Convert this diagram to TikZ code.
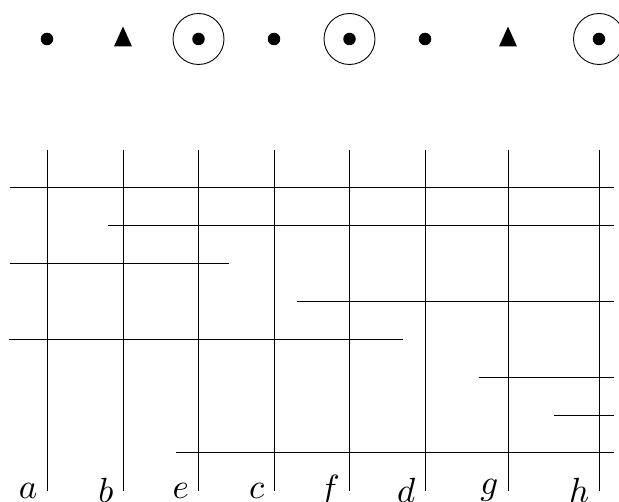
\documentclass[tikz,border=0pt]{standalone}
\begin{document}
\begin{tikzpicture}[x=1pt,y=-1pt,
  ln/.style={line width=1pt,black},
  lbl/.style={anchor=east,inner sep=0pt,scale=3.5},
  dotsym/.style={circle,fill=black,inner sep=0pt,minimum size=12.5pt},
  ring/.style={circle,draw,line width=0.9pt,inner sep=0pt,minimum size=51pt},
  trifill/.style={fill=black}]
\useasboundingbox (0,0) rectangle (619,502);
% columns
\foreach \n/\x in {a/47,b/123,e/198.5,c/274,f/349.5,d/425,g/508,h/599}{
  \coordinate (\n top) at (\x,150);
  \coordinate (\n bot) at (\x,490.7);
  \draw[ln] (\n top) -- (\n bot);
  \node[lbl] (\n lab) at (\x-9,490.7) {$\n$};
}
% rows
\foreach \i/\y/\xs in {1/188/9.5,2/226/108,3/264/9.5,4/302/296.5,5/340/9,6/378/478.5,7/415.5/554,8/453/175.7}{
  \coordinate (r\i s) at (\xs,\y);
}
\foreach \i/\y/\xe in {1/188/614,2/226/614,3/264/228.5,4/302/614,5/340/402.5,6/378/614,7/415.5/614,8/453/614}{
  \coordinate (r\i e) at (\xe,\y);
}
\foreach \i in {1,...,8}{ \draw[ln] (r\i s) -- (r\i e); }
% top symbols
\node[dotsym] (sa) at (47,39) {};
\foreach \x in {123,508}{
  \fill[trifill] (\x,26.5) -- (\x+9,46.5) -- (\x-9,46.5) -- cycle;
}
\node[ring] (se) at (198.5,39) {};
\node[dotsym] (sec) at (198.5,39) {};
\node[dotsym] (sc) at (274,39) {};
\node[ring] (sf) at (349.5,39) {};
\node[dotsym] (sfc) at (349.5,39) {};
\node[dotsym] (sd) at (425,39) {};
\node[ring] (sh) at (599,39) {};
\node[dotsym] (shc) at (599,39) {};
\end{tikzpicture}
\end{document}
